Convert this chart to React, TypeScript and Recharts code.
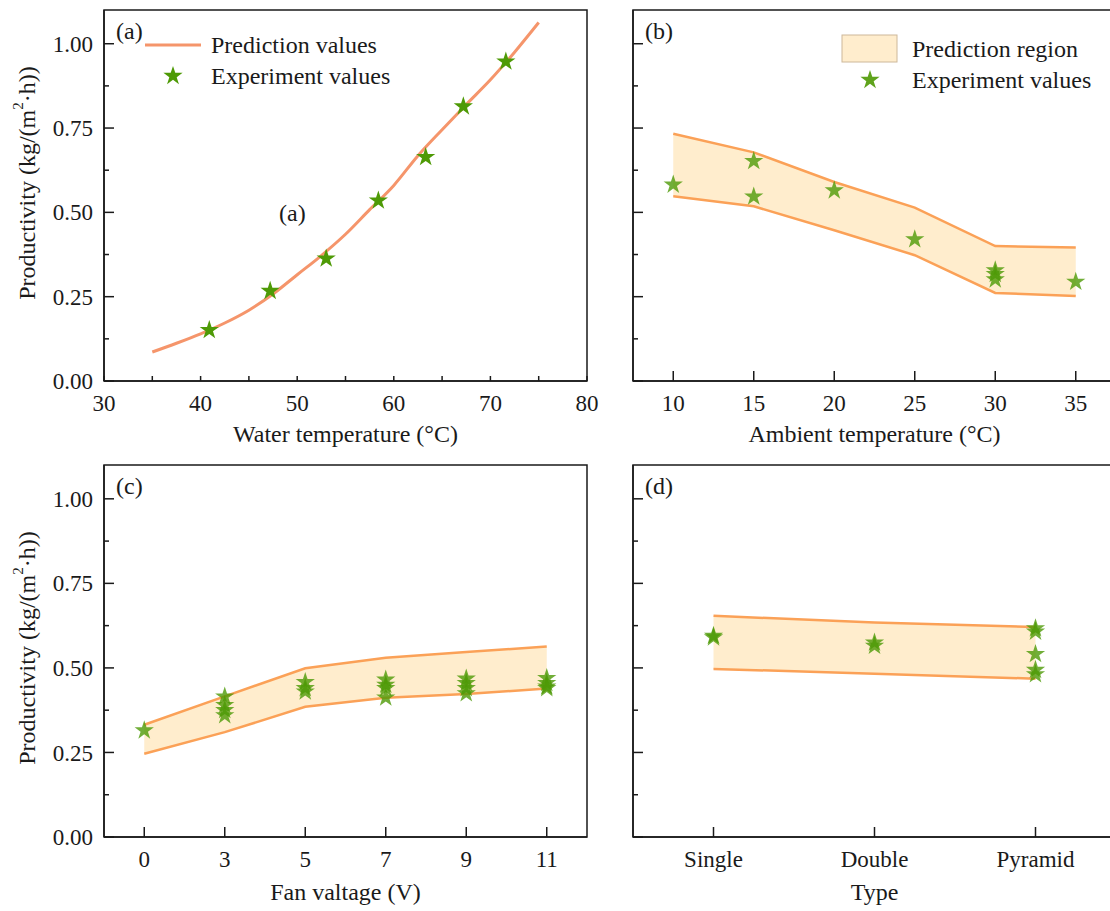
import React from "react";
import {
  ComposedChart,
  Line,
  Area,
  Scatter,
  XAxis,
  YAxis,
  ReferenceArea,
  ReferenceDot,
  Legend,
  Symbols,
} from "recharts";

const FONT = "Liberation Serif, DejaVu Serif, serif";
const INK = "#1a1a1a";
const PRED_LINE = "#F5956B";
const BAND_LINE = "#FBA157";
const BAND_FILL = "#FFEDCD";
const STAR = "#4E9A06";
const STAR_SIZE = 115;

// (a) water temperature
const waterTemp = [35, 37.5, 40, 42.5, 45, 47.5, 50, 52.5, 55, 57.5, 60, 62.5, 65, 67.5, 70, 72.5, 75];
const waterPred = [0.086, 0.112, 0.14, 0.172, 0.21, 0.258, 0.315, 0.372, 0.435, 0.508, 0.58, 0.668, 0.745, 0.82, 0.893, 0.975, 1.063];
const waterExpX = [40.9, 47.2, 53.0, 58.4, 63.3, 67.2, 71.6];
const waterExpY = [0.151, 0.267, 0.363, 0.535, 0.664, 0.814, 0.947];
const waterTicks = [30, 35, 40, 45, 50, 55, 60, 65, 70, 75, 80];

// (b) ambient temperature
const ambientTemp = [10, 15, 20, 25, 30, 35];
const ambientUpper = [0.733, 0.678, 0.59, 0.514, 0.4, 0.396];
const ambientLower = [0.548, 0.518, 0.447, 0.373, 0.261, 0.252];
const ambientExpX = [10, 15, 15, 20, 25, 30, 30, 30, 35];
const ambientExpY = [0.582, 0.652, 0.547, 0.565, 0.42, 0.328, 0.317, 0.301, 0.294];

// (c) fan voltage (categories, evenly spaced)
const fanLabels = ["0", "3", "5", "7", "9", "11"];
const fanUpper = [0.332, 0.416, 0.499, 0.53, 0.547, 0.563];
const fanLower = [0.246, 0.31, 0.385, 0.412, 0.423, 0.439];
const fanExpCat = ["0", "3", "3", "3", "3", "5", "5", "5", "7", "7", "7", "7", "9", "9", "9", "9", "11", "11", "11", "11"];
const fanExpY = [0.315, 0.415, 0.39, 0.375, 0.36, 0.458, 0.44, 0.43, 0.465, 0.45, 0.44, 0.412, 0.468, 0.455, 0.44, 0.425, 0.47, 0.455, 0.445, 0.44];

// (d) type
const typeLabels = ["Single", "Double", "Pyramid"];
const typeUpper = [0.654, 0.634, 0.621];
const typeLower = [0.497, 0.483, 0.468];
const typeExpCat = ["Single", "Single", "Double", "Double", "Pyramid", "Pyramid", "Pyramid", "Pyramid", "Pyramid"];
const typeExpY = [0.595, 0.59, 0.575, 0.565, 0.617, 0.607, 0.541, 0.494, 0.481];

const yTicks = [0, 0.125, 0.25, 0.375, 0.5, 0.625, 0.75, 0.875, 1.0];
const Y_MAX = 1.1;

const band = (xs: number[], lo: number[], hi: number[]) =>
  xs.map((x, i) => ({ x, lo: lo[i], hi: hi[i], range: [lo[i], hi[i]] }));
const pts = (xs: number[], ys: number[]) => xs.map((x, i) => ({ x, y: ys[i] }));

const waterPredData = pts(waterTemp, waterPred);
const waterExpData = pts(waterExpX, waterExpY);
const ambientBand = band(ambientTemp, ambientLower, ambientUpper);
const ambientExpData = pts(ambientExpX, ambientExpY);
const fanIdx = fanLabels.map((_, i) => i);
const fanBand = band(fanIdx, fanLower, fanUpper);
const fanExpData = pts(fanExpCat.map((c) => fanLabels.indexOf(c)), fanExpY);
const typeIdx = typeLabels.map((_, i) => i);
const typeBand = band(typeIdx, typeLower, typeUpper);
const typeExpData = pts(typeExpCat.map((c) => typeLabels.indexOf(c)), typeExpY);

const txt = (size: number) => ({ fontSize: size, fill: INK, style: { fontFamily: FONT } });

// star marker drawn at the point Recharts computed
const starShape = (opacity: number) => (p: any) => (
  <Symbols cx={p.cx} cy={p.cy} type="star" size={STAR_SIZE} fill={STAR} fillOpacity={opacity} />
);

function YTick(props: any) {
  const { x, y, payload, showLabel } = props;
  const v = payload.value as number;
  const major = Math.abs(v / 0.25 - Math.round(v / 0.25)) < 1e-6;
  return (
    <g>
      <line x1={x} x2={x + (major ? 10 : 5)} y1={y} y2={y} stroke={INK} strokeWidth={1.5} />
      {showLabel && major && (
        <text x={x - 11} y={y} dy="0.35em" textAnchor="end" {...txt(23)}>
          {v.toFixed(2)}
        </text>
      )}
    </g>
  );
}

function XTick(props: any) {
  const { x, y, payload, len, fmt } = props;
  const label = fmt(payload.value);
  return (
    <g>
      <line x1={x} x2={x} y1={y} y2={y - len} stroke={INK} strokeWidth={1.5} />
      {label !== "" && (
        <text x={x} y={y + 30} textAnchor="middle" {...txt(23)}>
          {label}
        </text>
      )}
    </g>
  );
}

function XTitle(props: any) {
  const { viewBox, text, dy } = props;
  return (
    <text x={viewBox.x + viewBox.width / 2} y={viewBox.y + dy} textAnchor="middle" {...txt(24)}>
      {text}
    </text>
  );
}

function YTitle(props: any) {
  const { cx, cy } = props;
  return (
    <text x={cx} y={cy} transform={`rotate(-90 ${cx} ${cy})`} textAnchor="middle" dominantBaseline="central" {...txt(24)}>
      <tspan>Productivity (kg/(m</tspan>
      <tspan dy={-9} fontSize={15}>2</tspan>
      <tspan dy={9}>·h))</tspan>
    </text>
  );
}

function LegendA() {
  return (
    <svg width={300} height={70} style={{ overflow: "visible" }}>
      <line x1={0} x2={56} y1={12} y2={12} stroke={PRED_LINE} strokeWidth={3} />
      <text x={66} y={12} dy="0.35em" {...txt(24)}>Prediction values</text>
      <Symbols cx={28} cy={43} type="star" size={STAR_SIZE} fill={STAR} />
      <text x={66} y={43} dy="0.35em" {...txt(24)}>Experiment values</text>
    </svg>
  );
}

function LegendB() {
  return (
    <svg width={270} height={70} style={{ overflow: "visible" }}>
      <rect x={0} y={0} width={55} height={27} fill={BAND_FILL} stroke="#CDB89A" />
      <text x={70} y={14} dy="0.35em" {...txt(24)}>Prediction region</text>
      <Symbols cx={28} cy={45} type="star" size={STAR_SIZE} fill="#5FA31C" />
      <text x={70} y={45} dy="0.35em" {...txt(24)}>Experiment values</text>
    </svg>
  );
}

const frameLabel = (v: string) => ({
  value: v,
  position: "insideTopLeft" as const,
  offset: 12,
  fontSize: 24,
  fill: INK,
  style: { fontFamily: FONT },
});

const yAxisProps = (showLabel: boolean) => ({
  type: "number" as const,
  domain: [0, Y_MAX],
  ticks: yTicks,
  interval: 0,
  tickSize: 0,
  tickMargin: 0,
  tickLine: false,
  allowDataOverflow: true,
  axisLine: { stroke: INK, strokeWidth: 1.5 },
  tick: (p: any) => <YTick {...p} showLabel={showLabel} />,
});

const xAxisBase = {
  dataKey: "x",
  type: "number" as const,
  interval: 0,
  tickSize: 0,
  tickMargin: 0,
  tickLine: false,
  allowDataOverflow: true,
  height: 40,
  axisLine: { stroke: INK, strokeWidth: 1.5 },
};

function PanelA() {
  return (
    <ComposedChart width={600} height={450} margin={{ top: 10, right: 13, bottom: 29, left: 44 }}>
      <XAxis
        {...xAxisBase}
        domain={[30, 80]}
        ticks={waterTicks}
        tick={(p: any) => <XTick {...p} len={5} fmt={(v: number) => (v % 10 === 0 ? String(v) : "")} />}
        label={<XTitle text="Water temperature (°C)" dy={61} />}
      />
      <YAxis {...yAxisProps(true)} width={60} label={<YTitle cx={27} cy={183} />} />
      <Line data={waterPredData} dataKey="y" type="monotone" stroke={PRED_LINE} strokeWidth={3} dot={false} activeDot={false} isAnimationActive={false} />
      <Scatter data={waterExpData} dataKey="y" shape={starShape(1)} fill={STAR} isAnimationActive={false} />
      <ReferenceDot x={49.5} y={0.5} r={1} fill="none" stroke="none" label={{ value: "(a)", position: "center", fontSize: 24, fill: INK, style: { fontFamily: FONT } }} />
      <ReferenceArea x1={30} x2={80} y1={0} y2={Y_MAX} fill="none" stroke={INK} strokeWidth={1.5} label={frameLabel("(a)")} />
      <Legend content={<LegendA />} layout="vertical" align="center" verticalAlign="middle" wrapperStyle={{ left: 145, top: 33, width: 300 }} />
    </ComposedChart>
  );
}

function PanelB() {
  return (
    <ComposedChart width={530} height={450} margin={{ top: 10, right: 14, bottom: 29, left: 3 }}>
      <XAxis
        {...xAxisBase}
        domain={[7.5, 37.5]}
        ticks={ambientTemp}
        tick={(p: any) => <XTick {...p} len={10} fmt={(v: number) => String(v)} />}
        label={<XTitle text="Ambient temperature (°C)" dy={61} />}
      />
      <YAxis {...yAxisProps(false)} width={30} />
      <Area data={ambientBand} dataKey="range" type="linear" fill={BAND_FILL} fillOpacity={1} stroke="none" dot={false} activeDot={false} isAnimationActive={false} />
      <Line data={ambientBand} dataKey="hi" type="linear" stroke={BAND_LINE} strokeWidth={2.5} dot={false} activeDot={false} isAnimationActive={false} />
      <Line data={ambientBand} dataKey="lo" type="linear" stroke={BAND_LINE} strokeWidth={2.5} dot={false} activeDot={false} isAnimationActive={false} />
      <Scatter data={ambientExpData} dataKey="y" shape={starShape(0.8)} fill={STAR} isAnimationActive={false} />
      <ReferenceArea x1={7.5} x2={37.5} y1={0} y2={Y_MAX} fill="none" stroke={INK} strokeWidth={1.5} label={frameLabel("(b)")} />
      <Legend content={<LegendB />} layout="vertical" align="center" verticalAlign="middle" wrapperStyle={{ left: 242, top: 35, width: 270 }} />
    </ComposedChart>
  );
}

function PanelC() {
  return (
    <ComposedChart width={600} height={461} margin={{ top: 15, right: 13, bottom: 34, left: 44 }}>
      <XAxis
        {...xAxisBase}
        domain={[-0.5, fanLabels.length - 0.5]}
        ticks={fanIdx}
        tick={(p: any) => <XTick {...p} len={10} fmt={(v: number) => fanLabels[v]} />}
        label={<XTitle text="Fan valtage (V)" dy={63} />}
      />
      <YAxis {...yAxisProps(true)} width={60} label={<YTitle cx={27} cy={198} />} />
      <Area data={fanBand} dataKey="range" type="linear" fill={BAND_FILL} fillOpacity={1} stroke="none" dot={false} activeDot={false} isAnimationActive={false} />
      <Line data={fanBand} dataKey="hi" type="linear" stroke={BAND_LINE} strokeWidth={2.5} dot={false} activeDot={false} isAnimationActive={false} />
      <Line data={fanBand} dataKey="lo" type="linear" stroke={BAND_LINE} strokeWidth={2.5} dot={false} activeDot={false} isAnimationActive={false} />
      <Scatter data={fanExpData} dataKey="y" shape={starShape(0.8)} fill={STAR} isAnimationActive={false} />
      <ReferenceArea x1={-0.5} x2={fanLabels.length - 0.5} y1={0} y2={Y_MAX} fill="none" stroke={INK} strokeWidth={1.5} label={frameLabel("(c)")} />
    </ComposedChart>
  );
}

function PanelD() {
  return (
    <ComposedChart width={530} height={461} margin={{ top: 15, right: 14, bottom: 34, left: 3 }}>
      <XAxis
        {...xAxisBase}
        domain={[-0.5, typeLabels.length - 0.5]}
        ticks={typeIdx}
        tick={(p: any) => <XTick {...p} len={10} fmt={(v: number) => typeLabels[v]} />}
        label={<XTitle text="Type" dy={63} />}
      />
      <YAxis {...yAxisProps(false)} width={30} />
      <Area data={typeBand} dataKey="range" type="linear" fill={BAND_FILL} fillOpacity={1} stroke="none" dot={false} activeDot={false} isAnimationActive={false} />
      <Line data={typeBand} dataKey="hi" type="linear" stroke={BAND_LINE} strokeWidth={2.5} dot={false} activeDot={false} isAnimationActive={false} />
      <Line data={typeBand} dataKey="lo" type="linear" stroke={BAND_LINE} strokeWidth={2.5} dot={false} activeDot={false} isAnimationActive={false} />
      <Scatter data={typeExpData} dataKey="y" shape={starShape(0.8)} fill={STAR} isAnimationActive={false} />
      <ReferenceArea x1={-0.5} x2={typeLabels.length - 0.5} y1={0} y2={Y_MAX} fill="none" stroke={INK} strokeWidth={1.5} label={frameLabel("(d)")} />
    </ComposedChart>
  );
}

export default function App() {
  return (
    <div style={{ position: "absolute", left: 0, top: 0, width: 1110, height: 911, overflow: "hidden", background: "#fff", fontFamily: FONT }}>
      <div style={{ position: "absolute", left: 0, top: 0 }}>
        <PanelA />
      </div>
      <div style={{ position: "absolute", left: 600, top: 0 }}>
        <PanelB />
      </div>
      <div style={{ position: "absolute", left: 0, top: 450 }}>
        <PanelC />
      </div>
      <div style={{ position: "absolute", left: 600, top: 450 }}>
        <PanelD />
      </div>
    </div>
  );
}
